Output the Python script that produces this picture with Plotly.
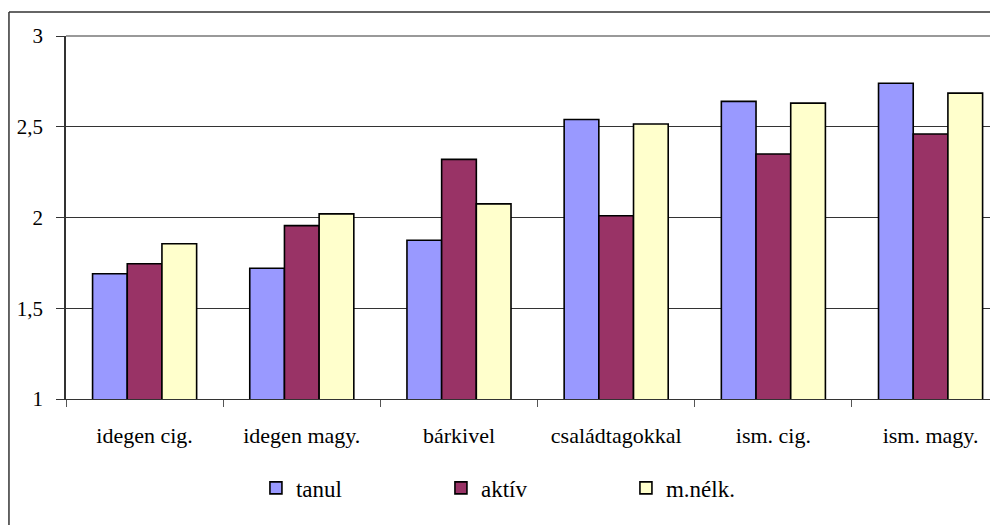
import plotly.graph_objects as go

categories = ["idegen cig.", "idegen magy.", "bárkivel", "családtagokkal", "ism. cig.", "ism. magy."]
tanul = [1.69, 1.72, 1.875, 2.54, 2.64, 2.74]
aktiv = [1.745, 1.955, 2.32, 2.01, 2.35, 2.46]
mnelk = [1.855, 2.02, 2.075, 2.515, 2.63, 2.685]
series_names = ["tanul", "aktív", "m.nélk."]
series_colors = ["#9999FF", "#993366", "#FFFFCC"]
y_ticks = [1, 1.5, 2, 2.5, 3]
y_tick_labels = ["1", "1,5", "2", "2,5", "3"]

FONT = "Liberation Serif"

fig = go.Figure()
for name, vals, col in zip(series_names, [tanul, aktiv, mnelk], series_colors):
    fig.add_trace(go.Bar(
        x=categories, y=vals, name=name,
        marker=dict(color=col, line=dict(color="#000000", width=1.6)),
    ))

fig.update_layout(
    width=990, height=517,
    margin=dict(l=58, r=0, t=28, b=126),
    paper_bgcolor="white", plot_bgcolor="white",
    font=dict(family=FONT, size=22, color="black"),
    barmode="group", bargap=0.338, bargroupgap=0,
    showlegend=True,
    legend=dict(
        orientation="h", x=0.2038, xanchor="left", y=-0.245, yanchor="middle",
        font=dict(family=FONT, size=23, color="black"),
        entrywidth=140, entrywidthmode="pixels",
        bgcolor="rgba(0,0,0,0)",
    ),
    hovermode=False,
)
fig.update_xaxes(
    range=[-0.5, 5.429],
    showline=True, linecolor="#333333", linewidth=1,
    ticks="outside", tickson="boundaries", ticklen=7, tickcolor="#555555",
    showgrid=False,
    tickfont=dict(family=FONT, size=22, color="black"),
    ticklabelstandoff=17,
)
fig.update_yaxes(
    range=[1, 3], tickvals=y_ticks, ticktext=y_tick_labels,
    showline=True, linecolor="#333333", linewidth=1.5,
    ticks="outside", ticklen=8, tickcolor="#333333",
    showgrid=True, gridcolor="#333333", gridwidth=1,
    zeroline=False,
    tickfont=dict(family=FONT, size=21, color="black"),
    ticklabelstandoff=9,
)
# top gray line of plot area
fig.add_shape(type="line", xref="paper", yref="paper", x0=0, x1=1.2, y0=1, y1=1,
              line=dict(color="#999999", width=2), layer="above")
# outer chart border (left and top)
fig.add_shape(type="line", xref="paper", yref="paper", x0=-0.0612, x1=-0.0612, y0=1.0661, y1=-0.5,
              line=dict(color="#333333", width=1.5))
fig.add_shape(type="line", xref="paper", yref="paper", x0=-0.0612, x1=1.2, y0=1.0661, y1=1.0661,
              line=dict(color="#333333", width=1.5))

fig.write_html("out.html")
